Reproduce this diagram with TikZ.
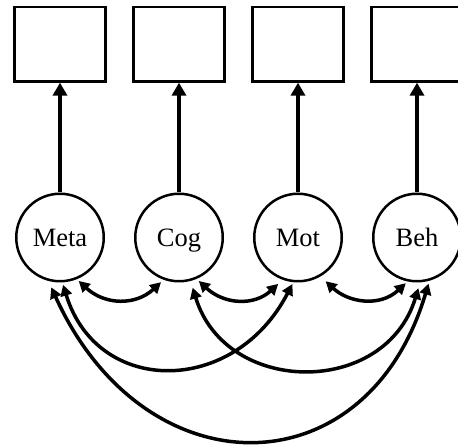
\documentclass[tikz,border=0pt]{standalone}
\usepackage{fontspec}
\setmainfont{Liberation Serif}
\usetikzlibrary{arrows.meta}

\tikzset{
  indicator/.style={draw, line width=2.5bp, minimum width=91bp, minimum height=74.2bp, inner sep=0pt},
  factor/.style={draw, circle, line width=2.5bp, minimum size=87.5bp, inner sep=0pt,
    font=\fontsize{26.5bp}{30bp}\selectfont, text height=17.4bp, text depth=0bp},
  loading/.style={line width=4.5bp, -{Triangle[length=13bp,width=14bp]}},
  covar/.style={line width=3.5bp, {Triangle[length=11bp,width=11.5bp]}-{Triangle[length=11bp,width=11.5bp]}}
}

\begin{document}
\begin{tikzpicture}[x=1bp, y=1bp]
  \useasboundingbox (0,0) rectangle (458,447);
  \clip (0,0) rectangle (458,447);

  % observed indicators
  \node[indicator] (ind1) at (60,402.7) {};
  \node[indicator] (ind2) at (179,402.7) {};
  \node[indicator] (ind3) at (298,402.7) {};
  \node[indicator] (ind4) at (417,402.7) {};

  % latent factors
  \node[factor] (meta) at (60,209.5) {Meta};
  \node[factor] (cog)  at (179,209.5) {Cog};
  \node[factor] (mot)  at (298,209.5) {Mot};
  \node[factor] (beh)  at (417,209.5) {Beh};

  % loadings
  \draw[loading] (meta.north) -- (ind1.south);
  \draw[loading] (cog.north)  -- (ind2.south);
  \draw[loading] (mot.north)  -- (ind3.south);
  \draw[loading] (beh.north)  -- (ind4.south);

  % covariances between neighbours
  \draw[covar, shorten <=2.5bp, shorten >=3.5bp]
    (meta.-68) .. controls +(28,-26) and +(-28,-26) .. (cog.-110);
  \draw[covar, shorten <=3bp, shorten >=6bp]
    (cog.-67) .. controls +(28,-26) and +(-28,-26) .. (mot.-110);
  \draw[covar, shorten <=7bp, shorten >=2.5bp]
    (mot.-60) .. controls +(28,-26) and +(-28,-26) .. (beh.-102);

  % covariances spanning two factors
  \draw[covar, shorten <=2.5bp, shorten >=2bp]
    (meta.-87) .. controls +(35,-114) and +(-59,-114) .. (mot.-96);
  \draw[covar, shorten <=7bp, shorten >=6bp]
    (cog.-75) .. controls +(35,-115) and +(-35,-115) .. (beh.-86);

  % covariance spanning all four
  \draw[covar, shorten <=7bp, shorten >=3bp]
    (meta.-105) .. controls +(96,-211) and +(-63,-211) .. (beh.-74);
\end{tikzpicture}
\end{document}
